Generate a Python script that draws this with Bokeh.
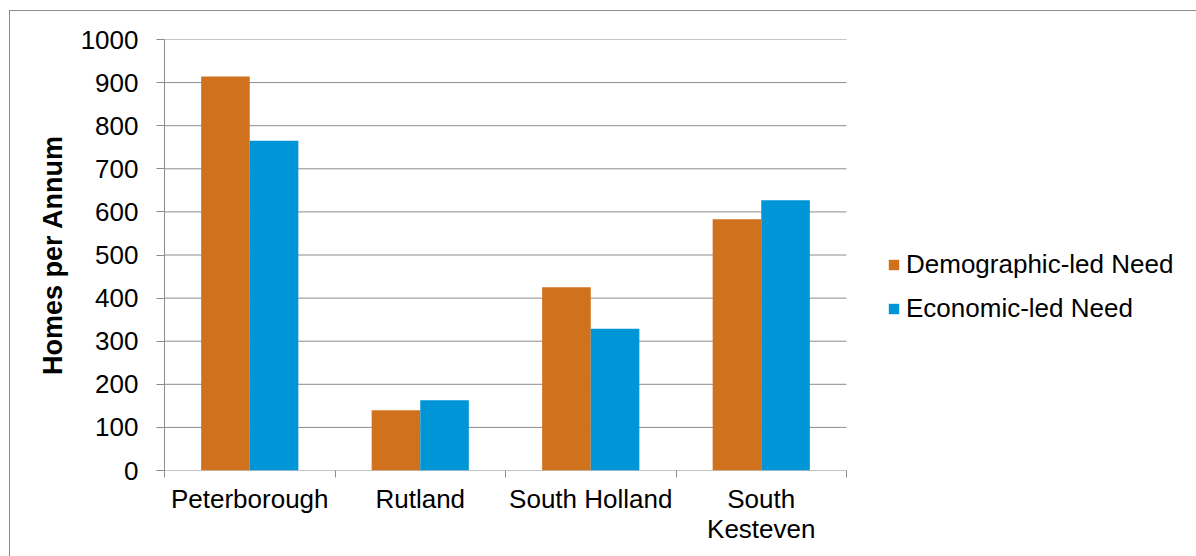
from bokeh.plotting import figure
from bokeh.models import Range1d, FixedTicker, Legend, LegendItem, ColumnDataSource
from bokeh.embed import file_html
from bokeh.resources import INLINE

# Housing need by district (homes per annum)
districts = ["Peterborough", "Rutland", "South Holland", "South Kesteven"]
district_labels = ["Peterborough", "Rutland", "South Holland", "South\nKesteven"]
demographic = [914, 140, 425, 583]
economic = [765, 163, 329, 627]
y_ticks = [0, 100, 200, 300, 400, 500, 600, 700, 800, 900, 1000]

ORANGE = "#D0711E"
BLUE = "#0095D6"
GREY = "#8C8C8C"
FONT = "Liberation Sans"
FS = "26px"

# canvas geometry (px): the bar area is 682 px wide, the rest of the frame
# to the right is left free for the legend
W, H = 1187, 546
LEFT, TOP, BOTTOM = 154, 28, 87
BAR_AREA = 682
n = len(districts)
x_end = n * (W - LEFT) / BAR_AREA

centers = [i + 0.5 for i in range(n)]
bar_w = 0.285

src = ColumnDataSource(dict(
    x_demo=[c - bar_w / 2 for c in centers],
    x_econ=[c + bar_w / 2 for c in centers],
    demographic=demographic,
    economic=economic,
))

p = figure(
    width=W, height=H,
    x_range=Range1d(0, x_end), y_range=Range1d(0, 1000),
    output_backend="svg", toolbar_location=None,
    min_border_left=LEFT, min_border_right=0,
    min_border_top=TOP, min_border_bottom=BOTTOM,
    margin=(10, 0, 0, 9),
)
p.styles = {"border-left": f"1px solid {GREY}", "border-top": f"1px solid {GREY}"}
p.outline_line_color = None
p.background_fill_color = "white"
p.border_fill_color = "white"

# horizontal gridlines (and the baseline) only across the bar area
p.xgrid.grid_line_color = None
p.ygrid.grid_line_color = None
p.segment(x0=[0] * len(y_ticks), x1=[n] * len(y_ticks), y0=y_ticks, y1=y_ticks,
          line_color=GREY, line_width=1)

r_demo = p.vbar(x="x_demo", top="demographic", width=bar_w, source=src,
                fill_color=ORANGE, line_color=None)
r_econ = p.vbar(x="x_econ", top="economic", width=bar_w, source=src,
                fill_color=BLUE, line_color=None)

# x axis: labels under each district, ticks on the boundaries between them
p.xaxis.ticker = FixedTicker(ticks=centers, minor_ticks=list(range(n + 1)))
p.xaxis.major_label_overrides = {c: lab for c, lab in zip(centers, district_labels)}
p.xaxis.major_tick_line_color = None
p.xaxis.major_tick_out = 0
p.xaxis.major_tick_in = 0
p.xaxis.minor_tick_in = 0
p.xaxis.minor_tick_out = 7
p.xaxis.minor_tick_line_color = GREY
p.xaxis.axis_line_color = None
p.xaxis.major_label_standoff = 6
p.xaxis.major_label_text_font = FONT
p.xaxis.major_label_text_font_size = FS
p.xaxis.major_label_text_line_height = 1.0
p.xaxis.major_label_text_color = "black"

p.yaxis.ticker = FixedTicker(ticks=y_ticks)
p.yaxis.minor_tick_line_color = None
p.yaxis.major_tick_in = 0
p.yaxis.major_tick_out = 8
p.yaxis.major_tick_line_color = GREY
p.yaxis.axis_line_color = GREY
p.yaxis.major_label_standoff = 18
p.yaxis.major_label_text_font = FONT
p.yaxis.major_label_text_font_size = FS
p.yaxis.major_label_text_color = "black"
p.yaxis.axis_label = "Homes per Annum"
p.yaxis.axis_label_text_font = FONT
p.yaxis.axis_label_text_font_size = "27px"
p.yaxis.axis_label_text_font_style = "bold"
p.yaxis.axis_label_text_color = "black"
p.yaxis.axis_label_standoff = 10

legend = Legend(
    items=[LegendItem(label="Demographic-led Need", renderers=[r_demo]),
           LegendItem(label="Economic-led Need", renderers=[r_econ])],
    location=(723, 146),
    border_line_color=None, background_fill_alpha=0,
    padding=0, margin=0, spacing=13,
    glyph_width=13, glyph_height=13, label_height=24, label_standoff=6,
    label_text_font=FONT, label_text_font_size=FS, label_text_color="black",
)
p.add_layout(legend, "center")

open("out.html", "w").write(file_html(p, INLINE))
